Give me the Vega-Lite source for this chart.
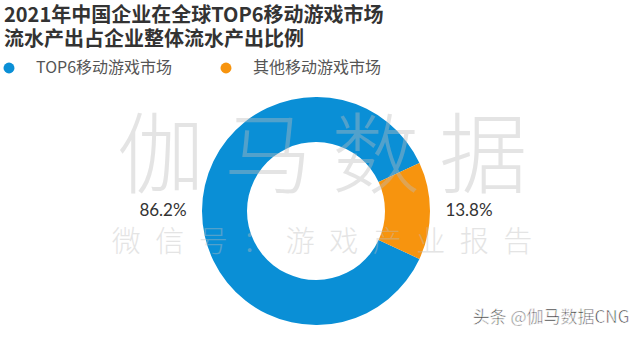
{
  "$schema": "https://vega.github.io/schema/vega-lite/v6.json",
  "width": 640,
  "height": 337,
  "autosize": {"type": "fit", "contains": "padding"},
  "padding": {"left": 0, "right": 8, "top": 6, "bottom": 0},
  "background": "white",
  "title": {
    "text": ["2021年中国企业在全球TOP6移动游戏市场", "流水产出占企业整体流水产出比例"],
    "anchor": "start",
    "frame": "group",
    "font": "Noto Sans CJK SC",
    "fontSize": 20,
    "fontWeight": "bold",
    "color": "#333333",
    "lineHeight": 24,
    "offset": 35,
    "dx": 4,
    "baseline": "top"
  },
  "config": {"view": {"stroke": null}},
  "data": {
    "values": [
      {"category": "TOP6移动游戏市场", "share": 86.2, "label": "86.2%", "rank": 1},
      {"category": "其他移动游戏市场", "share": 13.8, "label": "13.8%", "rank": 2}
    ]
  },
  "layer": [
    {
      "mark": {"type": "arc", "innerRadius": 69, "outerRadius": 114},
      "encoding": {
        "theta": {"field": "share", "type": "quantitative", "stack": true, "scale": {"domain": [0, 100], "range": [2.0044, 8.2876]}},
        "order": {"field": "rank"},
        "color": {
          "field": "category",
          "type": "nominal",
          "scale": {"domain": ["TOP6移动游戏市场", "其他移动游戏市场"], "range": ["#0a8fd6", "#f7940e"]},
          "legend": {
            "title": null,
            "orient": "none",
            "direction": "horizontal",
            "legendX": 1,
            "legendY": -25,
            "padding": 0,
            "symbolType": "circle",
            "symbolSize": 120,
            "symbolStrokeWidth": 0,
            "labelFont": "Noto Sans CJK SC",
            "labelFontSize": 16,
            "labelColor": "#555555",
            "labelOffset": 19,
            "columnPadding": 45
          }
        }
      }
    },
    {
      "mark": {"type": "text", "radius": 153, "font": "Lato", "fontSize": 17, "color": "#333333"},
      "encoding": {
        "theta": {"field": "share", "type": "quantitative", "stack": true, "scale": {"domain": [0, 100], "range": [2.0044, 8.2876]}},
        "order": {"field": "rank"},
        "detail": {"field": "category"},
        "text": {"field": "label"}
      }
    },
    {
      "data": {"values": [{"t": "伽 马 数 据"}]},
      "mark": {"type": "text", "font": "Noto Sans CJK SC", "fontWeight": 300, "fontSize": 88, "color": "#bdbdbd", "opacity": 0.4, "dx": 6, "dy": -51},
      "encoding": {"text": {"field": "t"}}
    },
    {
      "data": {"values": [{"t": "微\u2002信\u2002号\u2002：\u2002游\u2002戏\u2002产\u2002业\u2002报\u2002告"}]},
      "mark": {"type": "text", "font": "Noto Sans CJK SC", "fontWeight": 300, "fontSize": 29, "color": "#bdbdbd", "opacity": 0.4, "dx": 6, "dy": 32},
      "encoding": {"text": {"field": "t"}}
    },
    {
      "data": {"values": [{"t": "头条 @伽马数据CNG"}]},
      "mark": {"type": "text", "font": "Noto Sans CJK SC", "fontSize": 17, "color": "#3a3a3a", "stroke": "white", "strokeWidth": 0.6, "dx": 235, "dy": 107},
      "encoding": {"text": {"field": "t"}}
    }
  ]
}
